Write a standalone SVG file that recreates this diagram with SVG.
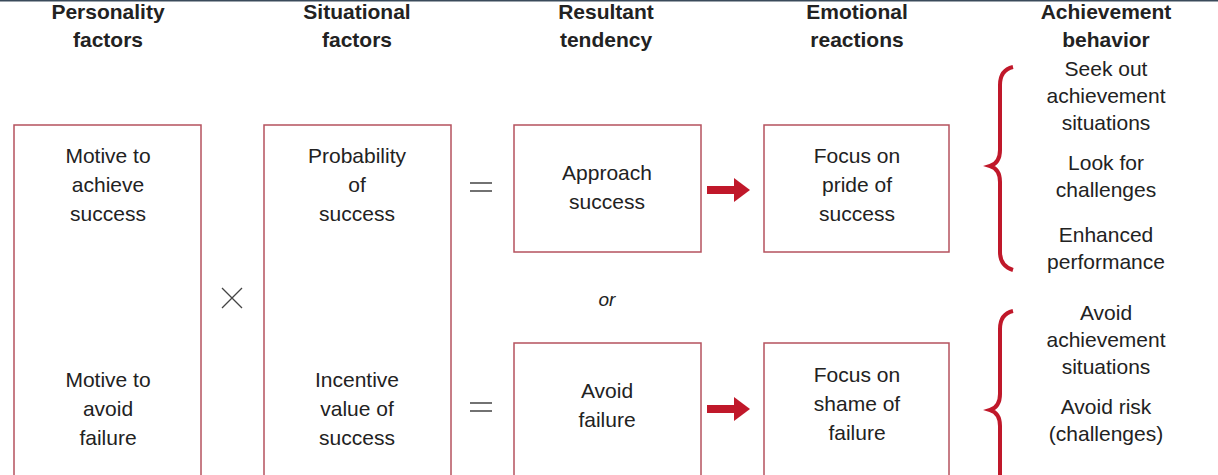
<svg xmlns="http://www.w3.org/2000/svg" width="1218" height="475" viewBox="0 0 1218 475">
<style>
text{font-family:"Liberation Sans",Arial,sans-serif;font-size:21px;fill:#222;text-anchor:middle}
.h{font-weight:bold;font-size:21px}
.box{fill:#fff;stroke:#b5525e;stroke-width:1.5}
.op{stroke:#444;stroke-width:1.3;fill:none}
.br{fill:none;stroke:#c0182a;stroke-width:4}
</style>
<defs><marker id="ah" markerWidth="4" markerHeight="4" refX="0.5" refY="1.5" orient="auto" markerUnits="strokeWidth"><path d="M0,0 L2,1.5 L0,3z" fill="#c0182a"/></marker></defs>
<rect width="1218" height="475" fill="#fff"/>
<line x1="0" y1="0.5" x2="1218" y2="0.5" stroke="#3a4a5a" stroke-width="2"/>
<g id="headers">
<text class="h" x="108" y="19">Personality</text><text class="h" x="108" y="47">factors</text>
<text class="h" x="357" y="19">Situational</text><text class="h" x="357" y="47">factors</text>
<text class="h" x="606" y="19">Resultant</text><text class="h" x="606" y="47">tendency</text>
<text class="h" x="857" y="19">Emotional</text><text class="h" x="857" y="47">reactions</text>
<text class="h" x="1106" y="19">Achievement</text><text class="h" x="1106" y="47">behavior</text>
</g>
<g id="personality"><rect class="box" x="14" y="125" width="187" height="360"/>
<text x="108" y="163">Motive to</text><text x="108" y="192">achieve</text><text x="108" y="221">success</text>
<text x="108" y="387">Motive to</text><text x="108" y="416">avoid</text><text x="108" y="445">failure</text></g>
<g id="situational"><rect class="box" x="264" y="125" width="187" height="360"/>
<text x="357" y="163">Probability</text><text x="357" y="192">of</text><text x="357" y="221">success</text>
<text x="357" y="387">Incentive</text><text x="357" y="416">value of</text><text x="357" y="445">success</text></g>
<g id="approach"><rect class="box" x="514" y="125" width="187" height="127"/>
<text x="607" y="180">Approach</text><text x="607" y="209">success</text></g>
<g id="avoid"><rect class="box" x="514" y="343" width="187" height="140"/>
<text x="607" y="398">Avoid</text><text x="607" y="427">failure</text></g>
<g id="pride"><rect class="box" x="764" y="125" width="185" height="127"/>
<text x="857" y="163">Focus on</text><text x="857" y="192">pride of</text><text x="857" y="221">success</text></g>
<g id="shame"><rect class="box" x="764" y="343" width="185" height="140"/>
<text x="857" y="382">Focus on</text><text x="857" y="411">shame of</text><text x="857" y="440">failure</text></g>
<g id="ops">
<path class="op" d="M222,288 L242,308 M242,288 L222,308"/>
<path class="op" d="M470,183 H492 M470,191 H492 M470,403 H492 M470,411 H492"/>
<text x="607" y="306" style="font-style:italic;font-size:19px">or</text>
</g>
<g id="connectors">
<line x1="707" y1="190" x2="738" y2="190" stroke="#c0182a" stroke-width="8" marker-end="url(#ah)"/>
<line x1="707" y1="409" x2="738" y2="409" stroke="#c0182a" stroke-width="8" marker-end="url(#ah)"/>
</g>
<g id="brace1"><path class="br" d="M1013,67 Q1000,70 1000,85 L1000,150 Q1000,163 990,166 Q1000,169 1000,182 L1000,252 Q1000,266 1013,270"/></g>
<g id="brace2"><path class="br" d="M1013,311 Q1000,314 1000,329 L1000,394 Q1000,407 990,410 Q1000,413 1000,426 L1000,490"/></g>
<g id="behaviors">
<text x="1106" y="76">Seek out</text><text x="1106" y="103">achievement</text><text x="1106" y="130">situations</text>
<text x="1106" y="170">Look for</text><text x="1106" y="197">challenges</text>
<text x="1106" y="242">Enhanced</text><text x="1106" y="269">performance</text>
<text x="1106" y="320">Avoid</text><text x="1106" y="347">achievement</text><text x="1106" y="374">situations</text>
<text x="1106" y="414">Avoid risk</text><text x="1106" y="441">(challenges)</text>
</g>
</svg>
